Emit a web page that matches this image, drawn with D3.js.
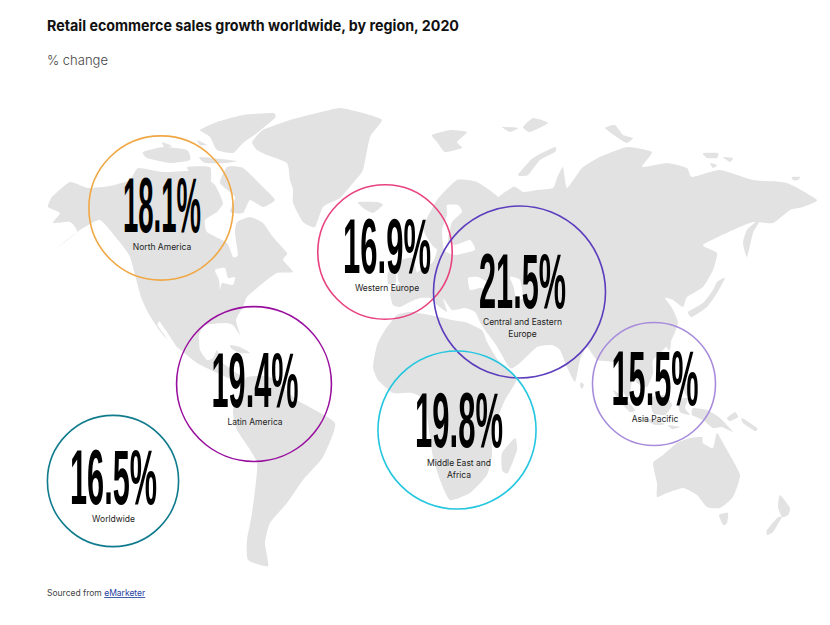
<!DOCTYPE html>
<html>
<head>
<meta charset="utf-8">
<script src="https://cdn.jsdelivr.net/npm/d3@7"></script>
<style>
  body { margin: 0; background: #fff; }
  svg { display: block; }
  text { font-family: Inter, "Noto Sans", sans-serif; }
</style>
</head>
<body>
<div id="chart"></div>
<script>
// chart values
const regions = ["North America", "Western Europe", "Central and Eastern Europe", "Asia Pacific", "Middle East and Africa", "Latin America", "Worldwide"];
const growth = [18.1, 16.9, 21.5, 15.5, 19.8, 19.4, 16.5];

// where each bubble sits on the page, and how it looks
const bubbleX = [161, 385, 519.5, 654, 457, 254, 113];
const bubbleY = [208, 252, 292, 384, 430, 384, 481];
const bubbleColors = ["#f0a845", "#e8437f", "#5c3dbd", "#a88cdc", "#25c6df", "#980e9e", "#0f7b8d"];
const labelLines = [["North America"], ["Western Europe"], ["Central and Eastern", "Europe"], ["Asia Pacific"], ["Middle East and", "Africa"], ["Latin America"], ["Worldwide"]];
const numberWidths = [78, 88, 87, 87, 88, 87, 87];
// text placement inside each bubble
const textDx = [1, 2, 3, 1, 2, 1, 0.5];
const numberDy = [24, 21, 16, 21, 17, 23, 23];
const labelDy = [42, 39, 33, 38, 36, 41, 41];

// backdrop map, traced by hand in page pixels
const land = [
  // north america
  [[48,207],[52,197],[70,182],[88,188],[110,186],[130,180],[138,168],[163,172],[190,171],[203,176],[215,185],[223,203],[217,212],[205,220],[207,232],[227,243],[233,257],[238,255],[235,233],[237,222],[250,217],[263,223],[273,237],[287,253],[283,260],[293,272],[277,273],[263,283],[247,297],[243,307],[236,320],[240,335],[233,325],[225,323],[205,325],[199,335],[200,350],[207,360],[213,358],[217,350],[222,362],[228,367],[243,378],[240,384],[228,378],[215,372],[197,363],[177,347],[163,335],[150,316],[141,297],[130,257],[118,240],[100,220],[80,230],[57,248],[77,232],[70,222],[53,223],[60,213]],
  // arctic canada
  [[200,130],[217,122],[243,115],[273,113],[275,118],[257,133],[243,143],[233,153],[217,150],[210,137]],
  [[227,167],[243,168],[263,187],[275,200],[263,207],[250,200],[243,213],[230,212],[235,197],[220,183]],
  [[143,152],[163,147],[187,150],[190,160],[170,163],[147,158]],
  [[162,142],[172,146],[165,148]],
  [[197,140],[207,145],[200,145]],
  [[200,157],[237,161],[225,163],[205,163]],
  [[187,167],[210,167],[210,183],[195,178]],
  // greenland, iceland
  [[252,142],[263,130],[290,120],[317,113],[340,108],[363,113],[382,120],[370,137],[363,170],[353,183],[340,198],[323,207],[315,227],[303,222],[293,203],[293,190],[290,180],[287,163],[267,155],[257,150]],
  [[358,202],[377,202],[383,205],[373,213],[363,208]],
  // cuba
  [[230,345],[240,347],[250,353],[240,353],[232,349]],
  // south america
  [[243,387],[247,377],[270,377],[297,400],[335,423],[323,457],[303,480],[287,503],[270,523],[265,543],[268,566],[248,560],[247,540],[252,513],[257,463],[237,430],[233,410]],
  // eurasia
  [[437,200],[457,180],[477,182],[498,197],[487,205],[513,187],[523,192],[537,190],[553,188],[557,178],[563,167],[567,188],[582,168],[600,157],[627,147],[652,152],[642,167],[667,163],[687,168],[692,177],[720,170],[753,180],[787,183],[817,200],[803,207],[790,210],[773,223],[753,222],[733,230],[703,245],[717,253],[713,270],[703,287],[687,297],[683,307],[673,300],[665,298],[672,308],[678,323],[670,343],[653,360],[653,373],[647,387],[637,383],[633,377],[628,400],[620,383],[617,363],[597,360],[587,347],[580,360],[575,382],[567,367],[560,350],[552,345],[537,347],[520,363],[510,368],[496,345],[485,330],[480,322],[475,312],[465,308],[452,310],[443,298],[447,312],[437,305],[430,298],[420,298],[410,302],[400,307],[393,305],[390,293],[397,285],[410,280],[420,270],[433,262],[437,250],[432,245],[423,228]],
  // uk, ireland
  [[398,262],[412,258],[418,280],[405,287],[398,280]],
  [[388,272],[395,270],[396,282],[388,284]],
  // arctic islands
  [[432,135],[450,130],[467,132],[457,142],[462,148],[445,152],[437,142]],
  [[518,175],[533,158],[555,147],[555,152],[540,160],[528,175]],
  [[502,127],[518,128],[510,132]],
  [[523,127],[533,118],[548,123],[530,132]],
  [[605,128],[615,125],[623,135],[633,138],[627,143],[618,138]],
  [[703,153],[718,153],[717,158],[707,158]],
  [[723,157],[733,158],[730,162]],
  [[710,163],[717,165],[713,168]],
  [[792,177],[800,177],[798,180],[793,180]],
  // east asia islands
  [[762,217],[753,233],[747,257],[743,243],[747,230]],
  [[725,278],[717,293],[707,307],[692,317],[688,312],[703,303],[713,290],[717,282]],
  [[668,338],[671,340],[670,350],[667,348]],
  [[683,383],[688,385],[690,398],[685,394]],
  [[581,382],[584,385],[582,389],[580,386]],
  // indonesia, new guinea
  [[613,390],[625,398],[635,410],[630,412],[620,402]],
  [[650,398],[665,395],[672,405],[665,415],[653,413]],
  [[678,400],[688,398],[685,408],[690,415],[680,412]],
  [[640,417],[655,420],[665,424],[655,425]],
  [[668,425],[680,427],[672,429]],
  [[693,408],[707,410],[720,418],[733,432],[722,427],[713,428],[703,420],[692,415]],
  [[727,418],[735,412],[738,417],[730,421]],
  [[742,418],[757,428],[755,431],[743,423]],
  // australia, tasmania, new zealand
  [[653,463],[663,455],[677,443],[690,438],[702,437],[703,443],[713,448],[717,433],[727,450],[740,475],[733,497],[720,508],[707,507],[697,495],[683,488],[667,493],[657,497],[657,483]],
  [[719,515],[728,513],[727,523],[723,525]],
  [[780,495],[790,508],[788,515],[782,517],[778,507]],
  [[782,517],[773,532],[767,535],[767,530],[777,518]],
  // africa, madagascar
  [[373,367],[377,345],[385,330],[397,315],[410,312],[430,315],[452,320],[465,322],[482,330],[487,342],[498,360],[517,378],[505,400],[492,433],[492,455],[487,475],[470,493],[450,500],[440,480],[433,457],[428,423],[425,400],[412,393],[393,393],[378,380]],
  [[515,438],[517,450],[508,473],[502,470],[502,453]]
];
// seas and lakes cut out of the land
const water = [
  [[447,205],[458,205],[462,212],[452,222],[448,240],[455,245],[470,240],[475,250],[455,255],[444,250],[442,230],[447,215]],
  [[468,278],[478,277],[487,282],[490,290],[480,288],[470,290]],
  [[510,277],[520,280],[523,298],[516,300],[514,288]],
  [[215,270],[225,268],[228,278],[235,277],[233,285],[222,283],[220,290],[219,280]],
  [[160,322],[176,346],[172,345],[158,326]]
];

const svg = d3.select("#chart").append("svg")
  .attr("width", 830)
  .attr("height", 625);

// map
const shape = d3.line().curve(d3.curveCardinalClosed.tension(0.5));
svg.append("g").selectAll("path")
  .data(land)
  .join("path")
  .attr("d", shape)
  .attr("fill", "#e2e2e2");
svg.append("g").selectAll("path")
  .data(water)
  .join("path")
  .attr("d", shape)
  .attr("fill", "#fff");

// title
svg.append("text")
  .attr("x", 47).attr("y", 31)
  .attr("font-size", 15).attr("font-weight", 700)
  .attr("fill", "#111")
  .attr("textLength", 412)
  .attr("lengthAdjust", "spacingAndGlyphs")
  .text("Retail ecommerce sales growth worldwide, by region, 2020");
svg.append("text")
  .attr("x", 47).attr("y", 65)
  .attr("font-size", 13).attr("font-weight", 300)
  .attr("fill", "#444")
  .text("% change");

// bubbles, radius from the value
const radius = d3.scaleLinear().domain([15.5, 21.5]).range([61.5, 86]);

const bubble = svg.append("g").selectAll("g")
  .data(regions)
  .join("g")
  .attr("transform", (d, i) => `translate(${bubbleX[i]},${bubbleY[i]})`);

bubble.append("circle")
  .attr("r", (d, i) => radius(growth[i]))
  .attr("fill", "none")
  .attr("stroke", (d, i) => bubbleColors[i])
  .attr("stroke-width", 1.6);

bubble.append("text")
  .attr("y", (d, i) => numberDy[i])
  .attr("x", (d, i) => textDx[i] - numberWidths[i] / 2)
  .attr("textLength", (d, i) => numberWidths[i])
  .attr("lengthAdjust", "spacingAndGlyphs")
  .style("font-family", "'Liberation Sans Narrow', 'Liberation Sans'")
  .attr("font-size", 78)
  .attr("font-weight", 700)
  .attr("fill", "#000")
  .text((d, i) => `${growth[i].toFixed(1)}%`);

bubble.each(function (d, i) {
  d3.select(this).selectAll("text.label")
    .data(labelLines[i])
    .join("text")
    .attr("class", "label")
    .attr("x", textDx[i])
    .attr("y", (line, j) => labelDy[i] + j * 12)
    .attr("text-anchor", "middle")
    .attr("font-size", 8.5)
    .attr("fill", "#222")
    .text(line => line);
});

// source
const source = svg.append("text")
  .attr("x", 47).attr("y", 596)
  .attr("font-size", 8.5)
  .attr("fill", "#444")
  .text("Sourced from ");
source.append("tspan")
  .attr("fill", "#26409f")
  .attr("text-decoration", "underline")
  .text("eMarketer");
</script>
</body>
</html>
